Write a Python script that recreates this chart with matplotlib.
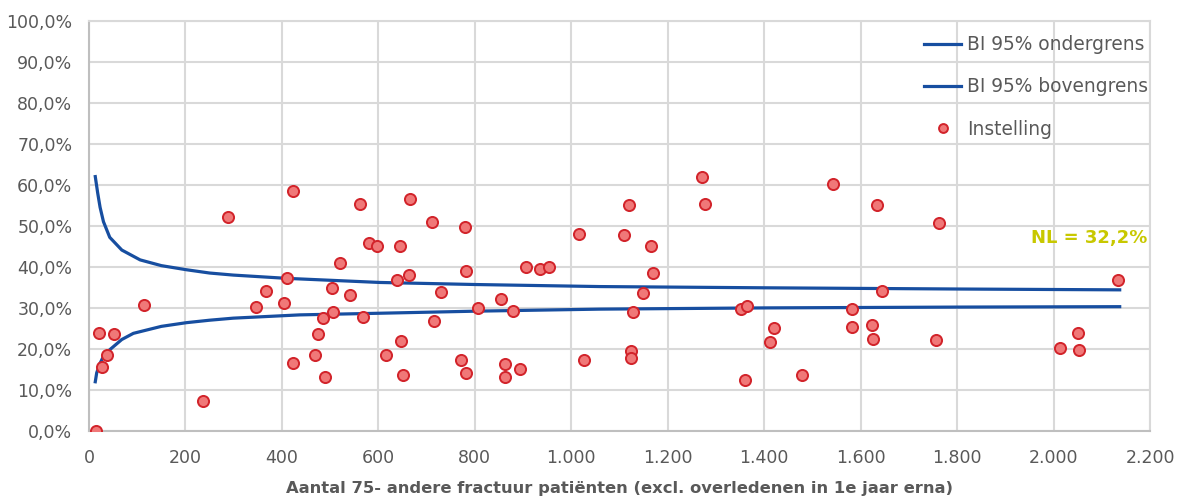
import matplotlib.pyplot as plt
from matplotlib.ticker import FuncFormatter, MultipleLocator

# ── data ──
# 95% confidence band around NL average (x = number of patients, y = %)
ci_low_x = [13, 16, 23, 30, 43, 68, 92, 150, 202, 250, 299, 437, 603, 800, 1059, 1400, 1805, 2137]
ci_low_y = [12.0, 14.2, 16.5, 18.2, 19.8, 22.3, 23.8, 25.5, 26.4, 27.0, 27.5, 28.3, 28.7, 29.2, 29.7, 30.0, 30.2, 30.3]
ci_high_x = [13, 18, 23, 30, 43, 68, 106, 150, 202, 250, 299, 410, 603, 800, 1059, 1400, 1805, 2137]
ci_high_y = [62.0, 58.0, 54.5, 51.0, 47.2, 44.1, 41.7, 40.3, 39.3, 38.5, 38.0, 37.2, 36.2, 35.7, 35.2, 34.9, 34.6, 34.4]

# one point per institution
inst_x = [14, 21, 27, 37, 52, 114, 236, 289, 347, 366, 404, 410, 422, 422, 469, 475,
          485, 490, 504, 505, 521, 542, 561, 569, 580, 598, 615, 639, 645, 646, 652,
          663, 665, 711, 715, 729, 772, 779, 781, 781, 807, 855, 863, 863, 879, 893,
          907, 935, 954, 1015, 1026, 1109, 1120, 1123, 1123, 1127, 1149, 1166, 1170,
          1270, 1277, 1352, 1360, 1364, 1411, 1421, 1478, 1542, 1581, 1582, 1623,
          1625, 1634, 1645, 1757, 1763, 2014, 2051, 2052, 2133]
inst_y = [0.0, 23.8, 15.5, 18.5, 23.7, 30.7, 7.2, 52.1, 30.3, 34.1, 31.2, 37.3, 58.4, 16.5, 18.5, 23.7,
          27.6, 13.1, 34.8, 29.0, 40.9, 33.1, 55.3, 27.7, 45.9, 45.1, 18.5, 36.7, 45.1, 21.9, 13.7,
          38.0, 56.6, 51.0, 26.7, 33.9, 17.4, 49.8, 38.9, 14.1, 30.0, 32.2, 16.3, 13.1, 29.3, 15.1,
          40.0, 39.5, 40.0, 47.9, 17.2, 47.8, 55.0, 19.6, 17.8, 29.0, 33.7, 45.0, 38.6,
          61.8, 55.3, 29.7, 12.4, 30.4, 21.6, 25.0, 13.6, 60.2, 25.4, 29.7, 25.9,
          22.3, 55.0, 34.2, 22.1, 50.6, 20.2, 23.9, 19.8, 36.8]

nl_label = "NL = 32,2%"
x_label = "Aantal 75- andere fractuur patiënten (excl. overledenen in 1e jaar erna)"

# ── style ──
line_color = "#174EA0"
grid_color = "#D9D9D9"
text_color = "#595959"
plt.rcParams["font.family"] = ["DejaVu Sans"]

fig = plt.figure(figsize=(11.82, 4.97), dpi=100)
ax = fig.add_axes([0.0753, 0.1328, 0.8977, 0.8256])

ax.plot(ci_low_x, ci_low_y, color=line_color, lw=2.3, label="BI 95% ondergrens", zorder=3)
ax.plot(ci_high_x, ci_high_y, color=line_color, lw=2.3, label="BI 95% bovengrens", zorder=3)
ax.plot(inst_x, inst_y, "o", ls="none", ms=8, mfc="#F07878", mec="#D2232A", mew=1.4,
        label="Instelling", zorder=4)

ax.set_xlim(0, 2200)
ax.set_ylim(0, 100)
ax.xaxis.set_major_locator(MultipleLocator(200))
ax.yaxis.set_major_locator(MultipleLocator(10))
ax.xaxis.set_major_formatter(FuncFormatter(lambda v, p: f"{int(v):,}".replace(",", ".")))
ax.yaxis.set_major_formatter(FuncFormatter(lambda v, p: f"{v:.1f}%".replace(".", ",")))

ax.grid(True, color=grid_color, lw=1.5)
ax.set_axisbelow(True)
for side, sp in ax.spines.items():
    sp.set_color(grid_color)
    sp.set_linewidth(1.5)
ax.spines["bottom"].set_color("#BFBFBF")
ax.spines["left"].set_color("#BFBFBF")
ax.tick_params(length=0, labelsize=12.5, labelcolor=text_color)
ax.tick_params(axis="x", pad=13)
ax.tick_params(axis="y", pad=12)

ax.set_xlabel(x_label, fontsize=11.8, fontweight="bold", color=text_color, labelpad=10)

ax.text(2195, 47, nl_label, ha="right", va="center", fontsize=13, fontweight="bold",
        color="#C8C800")

leg = ax.legend(loc="upper left", bbox_to_anchor=(0.787, 0.965), frameon=False,
                fontsize=13.4, labelspacing=1.25, handlelength=2.0, handletextpad=0.3,
                borderpad=0, borderaxespad=0, markerscale=0.8)
for t in leg.get_texts():
    t.set_color(text_color)

fig.savefig("out.png", dpi=100)
